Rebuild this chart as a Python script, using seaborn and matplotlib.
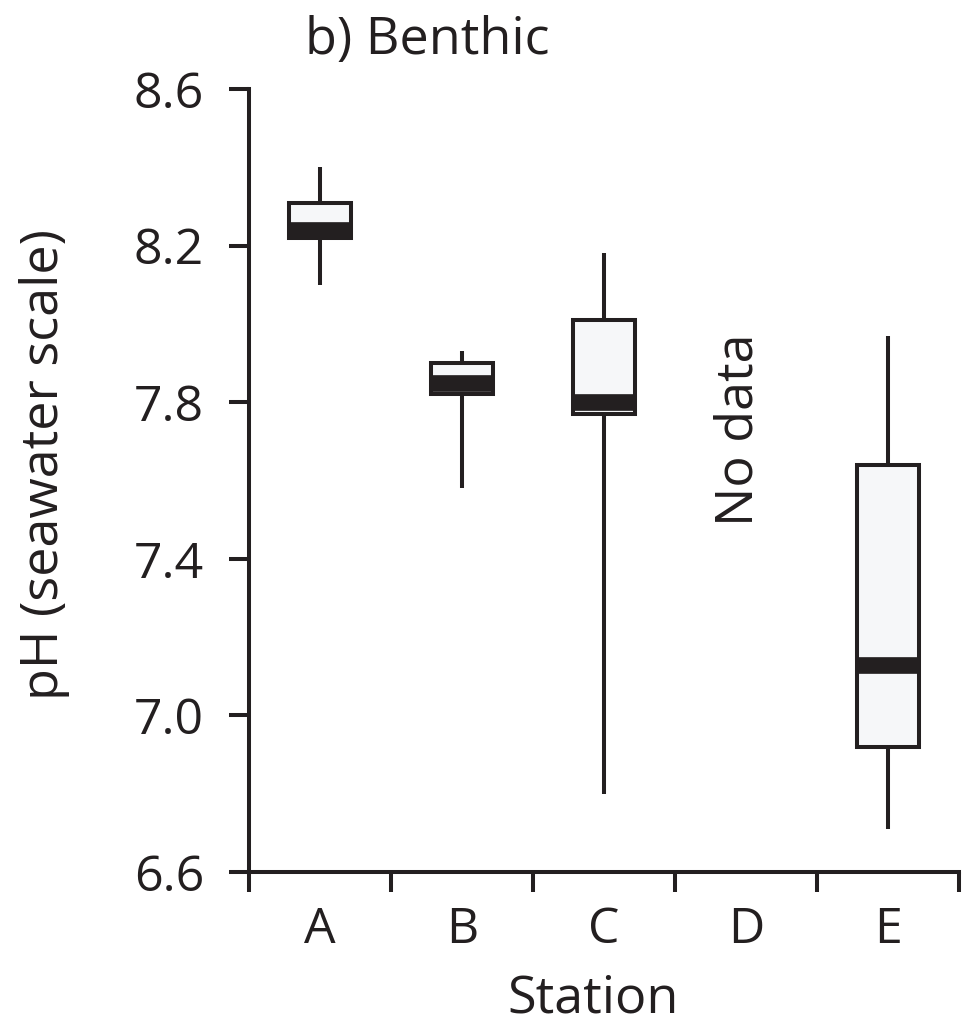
import numpy as np
import pandas as pd
import matplotlib
matplotlib.use("Agg")
import matplotlib.pyplot as plt
import seaborn as sns

# ----- Data -----
stations = ["A", "B", "C", "D", "E"]
whisker_low = [8.10, 7.58, 6.80, np.nan, 6.71]
quart_1 = [8.22, 7.82, 7.77, np.nan, 6.92]
medians = [8.24, 7.85, 7.80, np.nan, 7.13]
quart_3 = [8.31, 7.90, 8.01, np.nan, 7.64]
whisker_high = [8.40, 7.93, 8.18, np.nan, 7.97]

# five points per station -> exact quartiles with linear percentiles
rows = []
for i, st in enumerate(stations):
    for v in (whisker_low[i], quart_1[i], medians[i], quart_3[i], whisker_high[i]):
        if not np.isnan(v):
            rows.append({"station": st, "ph": v})
df = pd.DataFrame(rows)

ink = "#231f20"

sns.set_style("ticks")
plt.rcParams["font.family"] = ["Open Sans", "DejaVu Sans"]
plt.rcParams["text.color"] = ink
plt.rcParams["axes.labelcolor"] = ink
plt.rcParams["xtick.color"] = ink
plt.rcParams["ytick.color"] = ink

fig = plt.figure(figsize=(9.66, 10.24), dpi=100)
ax = fig.add_axes([0.2578, 0.1484, 0.7350, 0.7647])

sns.boxplot(
    data=df, x="station", y="ph", order=stations, ax=ax,
    whis=(0, 100), showcaps=False, showfliers=False, width=0.44,
    color="#f6f7f9", linecolor=ink, linewidth=2.9,
    medianprops={"linewidth": 12, "color": ink, "solid_capstyle": "butt"},
)

ax.set_xlim(-0.5, 4.5)
ax.set_ylim(6.6, 8.6)
ax.set_yticks([6.6, 7.0, 7.4, 7.8, 8.2, 8.6])
ax.set_yticklabels(["6.6", "7.0", "7.4", "7.8", "8.2", "8.6"])

# labels at category centres, tick marks between categories
ax.set_xticks(range(len(stations)))
ax.set_xticklabels(stations)
ax.set_xticks(np.arange(-0.5, 5.0, 1.0), minor=True)
ax.tick_params(axis="x", which="major", length=0, pad=24, labelsize=36)
ax.tick_params(axis="x", which="minor", length=14.5, width=2.9, direction="out")
ax.tick_params(axis="y", length=14.5, width=2.9, pad=18, labelsize=36)

for s in ["top", "right"]:
    ax.spines[s].set_visible(False)
for s in ["left", "bottom"]:
    ax.spines[s].set_linewidth(2.9)
    ax.spines[s].set_color(ink)

ax.set_xlabel("Station", fontsize=37.5)
ax.set_ylabel("pH (seawater scale)", fontsize=37.5)
ax.xaxis.set_label_coords(0.485, -0.13)
ax.yaxis.set_label_coords(-0.252, 0.52)

ax.text(2.95, 7.73, "No data", rotation=90, ha="center", va="center", fontsize=37.5)
fig.text(305 / 966, 1 - 40 / 1024, "b) Benthic", ha="left", va="center", fontsize=37.5)

fig.savefig("out.png", dpi=100, facecolor="white")
